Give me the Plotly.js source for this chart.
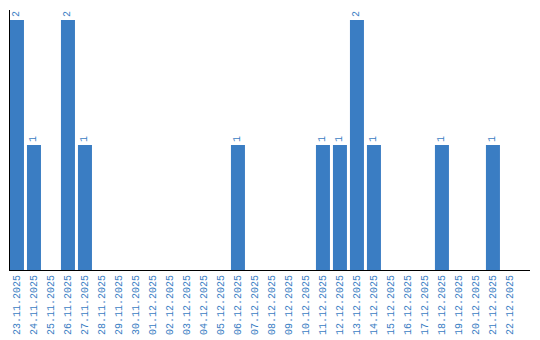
<!DOCTYPE html>
<html><head><meta charset="utf-8">
<script src="https://cdn.plot.ly/plotly-3.0.1.min.js"></script>
<style>html,body{margin:0;padding:0;background:#fff}</style>
</head><body>
<div id="chart" style="width:540px;height:340px"></div>
<script>
const dates = ["23.11.2025","24.11.2025","25.11.2025","26.11.2025","27.11.2025","28.11.2025","29.11.2025","30.11.2025","01.12.2025","02.12.2025","03.12.2025","04.12.2025","05.12.2025","06.12.2025","07.12.2025","08.12.2025","09.12.2025","10.12.2025","11.12.2025","12.12.2025","13.12.2025","14.12.2025","15.12.2025","16.12.2025","17.12.2025","18.12.2025","19.12.2025","20.12.2025","21.12.2025","22.12.2025"];
const counts = [2,1,0,2,1,0,0,0,0,0,0,0,0,1,0,0,0,0,1,1,2,1,0,0,0,1,0,0,1,0];
const labels = counts.map(v => v > 0 ? String(v) : "");
const barColor = "#3a7dc3";
Plotly.newPlot("chart", [{
  type: "bar", x: dates, y: counts, text: labels,
  textposition: "outside", textangle: -90, cliponaxis: false,
  textfont: {family: "Liberation Mono", size: 10, color: barColor},
  marker: {color: barColor}, hoverinfo: "none"
}], {
  width: 540, height: 340,
  margin: {l: 10, r: 10, t: 10, b: 70},
  paper_bgcolor: "#fff", plot_bgcolor: "#fff",
  bargap: 0.176, showlegend: false,
  xaxis: {type: "category", range: [-0.41, 30.18], tickangle: -90, showline: true, linecolor: "#000", linewidth: 1,
    showgrid: false, ticks: "", layer: "below traces",
    tickfont: {family: "Liberation Mono", size: 10, color: barColor}},
  yaxis: {range: [0, 2.08], showline: true, linecolor: "#000", linewidth: 1, showgrid: false,
    zeroline: false, showticklabels: false, ticks: "", layer: "below traces"}
}, {staticPlot: true});
</script>
</body></html>
